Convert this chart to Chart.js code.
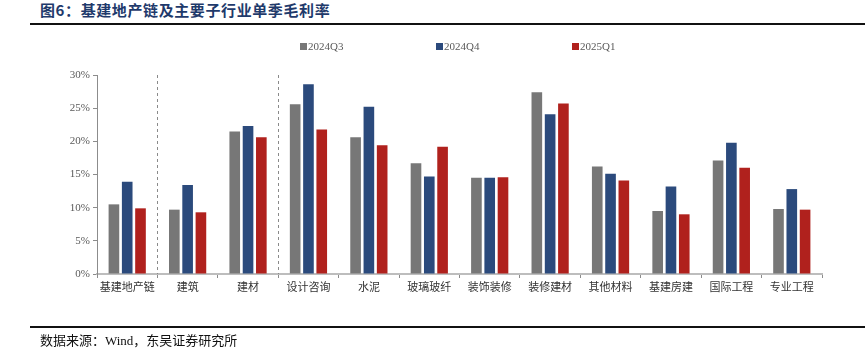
<!DOCTYPE html>
<html><head><meta charset="utf-8">
<script src="https://cdn.jsdelivr.net/npm/chart.js@4/dist/chart.umd.min.js"></script>
<style>
html,body{margin:0;padding:0;background:#fff;}
#wrap{position:relative;width:865px;height:357px;overflow:hidden;}
#c{position:absolute;left:0;top:0;}
.title{position:absolute;left:40px;top:0px;font-family:"Noto Sans CJK SC",sans-serif;font-weight:bold;font-size:15px;color:#1f3a6b;letter-spacing:0.6px;line-height:20px;white-space:nowrap;}
.line{position:absolute;left:30px;width:835px;height:2px;background:#111;}
.src{position:absolute;left:40px;top:332px;font-family:"Liberation Serif","Noto Sans CJK SC",serif;font-size:13px;color:#111;line-height:18px;white-space:nowrap;}
.leg{position:absolute;top:39px;font-family:"Liberation Serif",serif;font-size:11px;color:#595959;line-height:14px;white-space:nowrap;}
.leg i{display:inline-block;width:7px;height:7px;margin-right:1px;vertical-align:0px;}
</style></head>
<body><div id="wrap">
<div class="title">图6：基建地产链及主要子行业单季毛利率</div>
<div class="line" style="top:23px"></div>
<canvas id="c" width="865" height="357"></canvas>
<div id="legend"></div>
<div class="line" style="top:326px"></div>
<div class="src">数据来源：Wind，东吴证券研究所</div>
</div>
<script>
const categories = ["基建地产链","建筑","建材","设计咨询","水泥","玻璃玻纤","装饰装修","装修建材","其他材料","基建房建","国际工程","专业工程"];
const seriesNames = ["2024Q3","2024Q4","2025Q1"];
const q3_2024 = [10.5, 9.7, 21.5, 25.6, 20.6, 16.7, 14.5, 27.4, 16.2, 9.5, 17.1, 9.8];
const q4_2024 = [13.9, 13.4, 22.3, 28.6, 25.2, 14.7, 14.5, 24.1, 15.1, 13.2, 19.8, 12.8];
const q1_2025 = [9.9, 9.3, 20.6, 21.8, 19.4, 19.2, 14.6, 25.7, 14.1, 9.0, 16.0, 9.7];
const yTicks = [0,5,10,15,20,25,30];
const colors = ["#777777","#2b4a7c","#b0211d"];
const dividerAfter = [0, 2];

// HTML legend
const legX = [300, 436, 572];
const legEl = document.getElementById('legend');
seriesNames.forEach((n,i)=>{
  const d=document.createElement('div');d.className='leg';d.style.left=legX[i]+'px';
  d.innerHTML='<i style="background:'+colors[i]+'"></i>'+n;legEl.appendChild(d);
});

const dividers = {
  id:'dividers',
  afterDatasetsDraw(chart){
    const x=chart.scales.x, a=chart.chartArea, ctx=chart.ctx;
    ctx.save();ctx.strokeStyle='#8a8a8a';ctx.lineWidth=1;ctx.setLineDash([3,3]);
    dividerAfter.forEach(i=>{
      const px=Math.round((x.getPixelForValue(i)+x.getPixelForValue(i+1))/2)+0.5;
      ctx.beginPath();ctx.moveTo(px,a.top);ctx.lineTo(px,a.bottom);ctx.stroke();
    });
    ctx.restore();
  }
};

new Chart(document.getElementById('c'),{
  type:'bar',
  data:{labels:categories,datasets:[q3_2024,q4_2024,q1_2025].map((d,i)=>({
    label:seriesNames[i],data:d,backgroundColor:colors[i],borderWidth:0,
    categoryPercentage:0.66,barPercentage:0.8
  }))},
  options:{
    responsive:false,animation:false,
    layout:{padding:{left:0,right:43,top:75,bottom:53}},
    plugins:{legend:{display:false},tooltip:{enabled:false}},
    scales:{
      x:{
        grid:{drawOnChartArea:false,drawTicks:true,tickLength:4,color:'#8c8c8c',offset:true},
        border:{color:'#bdbdbd',width:2},
        ticks:{color:'#333',font:{family:'"Noto Sans CJK SC"',size:11},padding:2,maxRotation:0},
        afterFit(s){s.height=30;}
      },
      y:{
        min:0,max:30,
        afterBuildTicks(s){s.ticks=yTicks.map(v=>({value:v}));},
        grid:{drawOnChartArea:false,drawTicks:true,tickLength:4,color:'#8c8c8c'},
        border:{color:'#8c8c8c',width:1},
        ticks:{color:'#595959',font:{family:'"Liberation Serif"',size:11},padding:3,callback:v=>v+'%'},
        afterFit(s){s.width=97;}
      }
    }
  },
  plugins:[dividers]
});
</script>
</body></html>
